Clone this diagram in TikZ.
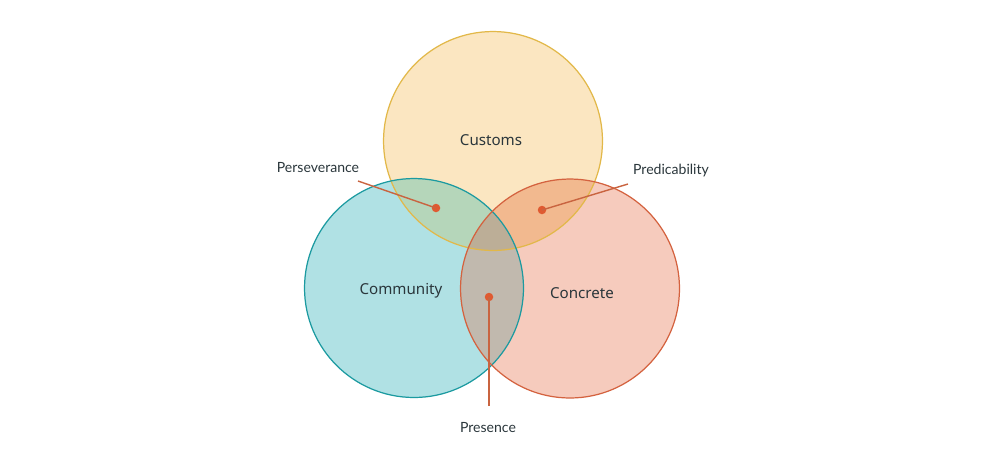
\documentclass[tikz,border=0pt]{standalone}
\usepackage{fontspec}
\setmainfont{Lato}
\newfontfamily\setfont{Noto Sans}
\usetikzlibrary{positioning,calc}
\definecolor{customsfill}{HTML}{FBE6C1}
\definecolor{customsline}{HTML}{E2B849}
\definecolor{communityfill}{HTML}{B0E1E4}
\definecolor{communityline}{HTML}{1B9AA0}
\definecolor{concretefill}{HTML}{F6CBBD}
\definecolor{concreteline}{HTML}{D4623F}
\definecolor{cucofill}{HTML}{B5D6BA}
\definecolor{cucrfill}{HTML}{F2B98F}
\definecolor{cocrfill}{HTML}{C1B9AE}
\definecolor{allfill}{HTML}{BCAE97}
\definecolor{leadercol}{HTML}{C96440}
\definecolor{dotcol}{HTML}{DF5A31}
\definecolor{textcol}{HTML}{2A363B}
\tikzstyle{set} = [circle, minimum size=4.38cm, inner sep=0pt]
\tikzstyle{rim} = [line width=0.7pt]
\tikzstyle{setlabel} = [font=\setfont\fontsize{8.6}{10}\selectfont, text=textcol]
\tikzstyle{callout} = [font=\fontsize{8}{10}\selectfont, text=textcol]
\tikzstyle{dot} = [circle, fill=dotcol, minimum size=0.17cm, inner sep=0pt]
\tikzstyle{leader} = [leadercol, line width=0.8pt]

\begin{document}
\begin{tikzpicture}[x=0.02cm,y=-0.02cm]
\useasboundingbox (0,0) rectangle (1000,468);
\node (customs) [set, fill=customsfill] at (493,141) {};
\node (community) [set, fill=communityfill] at (414,288) {};
\node (concrete) [set, fill=concretefill] at (570,288.5) {};
% overlaps
\begin{scope}
\clip (customs.center) circle (2.19cm);
\fill[cucofill] (community.center) circle (2.19cm);
\fill[cucrfill] (concrete.center) circle (2.19cm);
\end{scope}
\begin{scope}
\clip (community.center) circle (2.19cm);
\fill[cocrfill] (concrete.center) circle (2.19cm);
\clip (concrete.center) circle (2.19cm);
\fill[allfill] (customs.center) circle (2.19cm);
\end{scope}
\draw[rim, customsline] (customs.center) circle (2.19cm);
\draw[rim, communityline] (community.center) circle (2.19cm);
\draw[rim, concreteline] (concrete.center) circle (2.19cm);
\node (customslbl) [setlabel] at (491,140) {Customs};
\node (communitylbl) [setlabel] at (401,291) {Community};
\node (concretelbl) [setlabel] at (582,293) {Concrete};
% callouts
\node (pers) [callout] at (318,168) {Perseverance};
\node (pred) [callout] at (671,171) {Predicability};
\node (pres) [callout] at (488,428) {Presence};
\coordinate (persend) at (358,181);
\coordinate (predend) at (628,184);
\coordinate (presend) at (489,406);
\node (persdot) [dot] at (436,208) {};
\node (preddot) [dot] at (542,210) {};
\node (presdot) [dot] at (489,297) {};
\draw[leader] (persend)--(persdot.center);
\draw[leader] (predend)--(preddot.center);
\draw[leader] (presend)--(presdot.center);
\end{tikzpicture}
\end{document}
